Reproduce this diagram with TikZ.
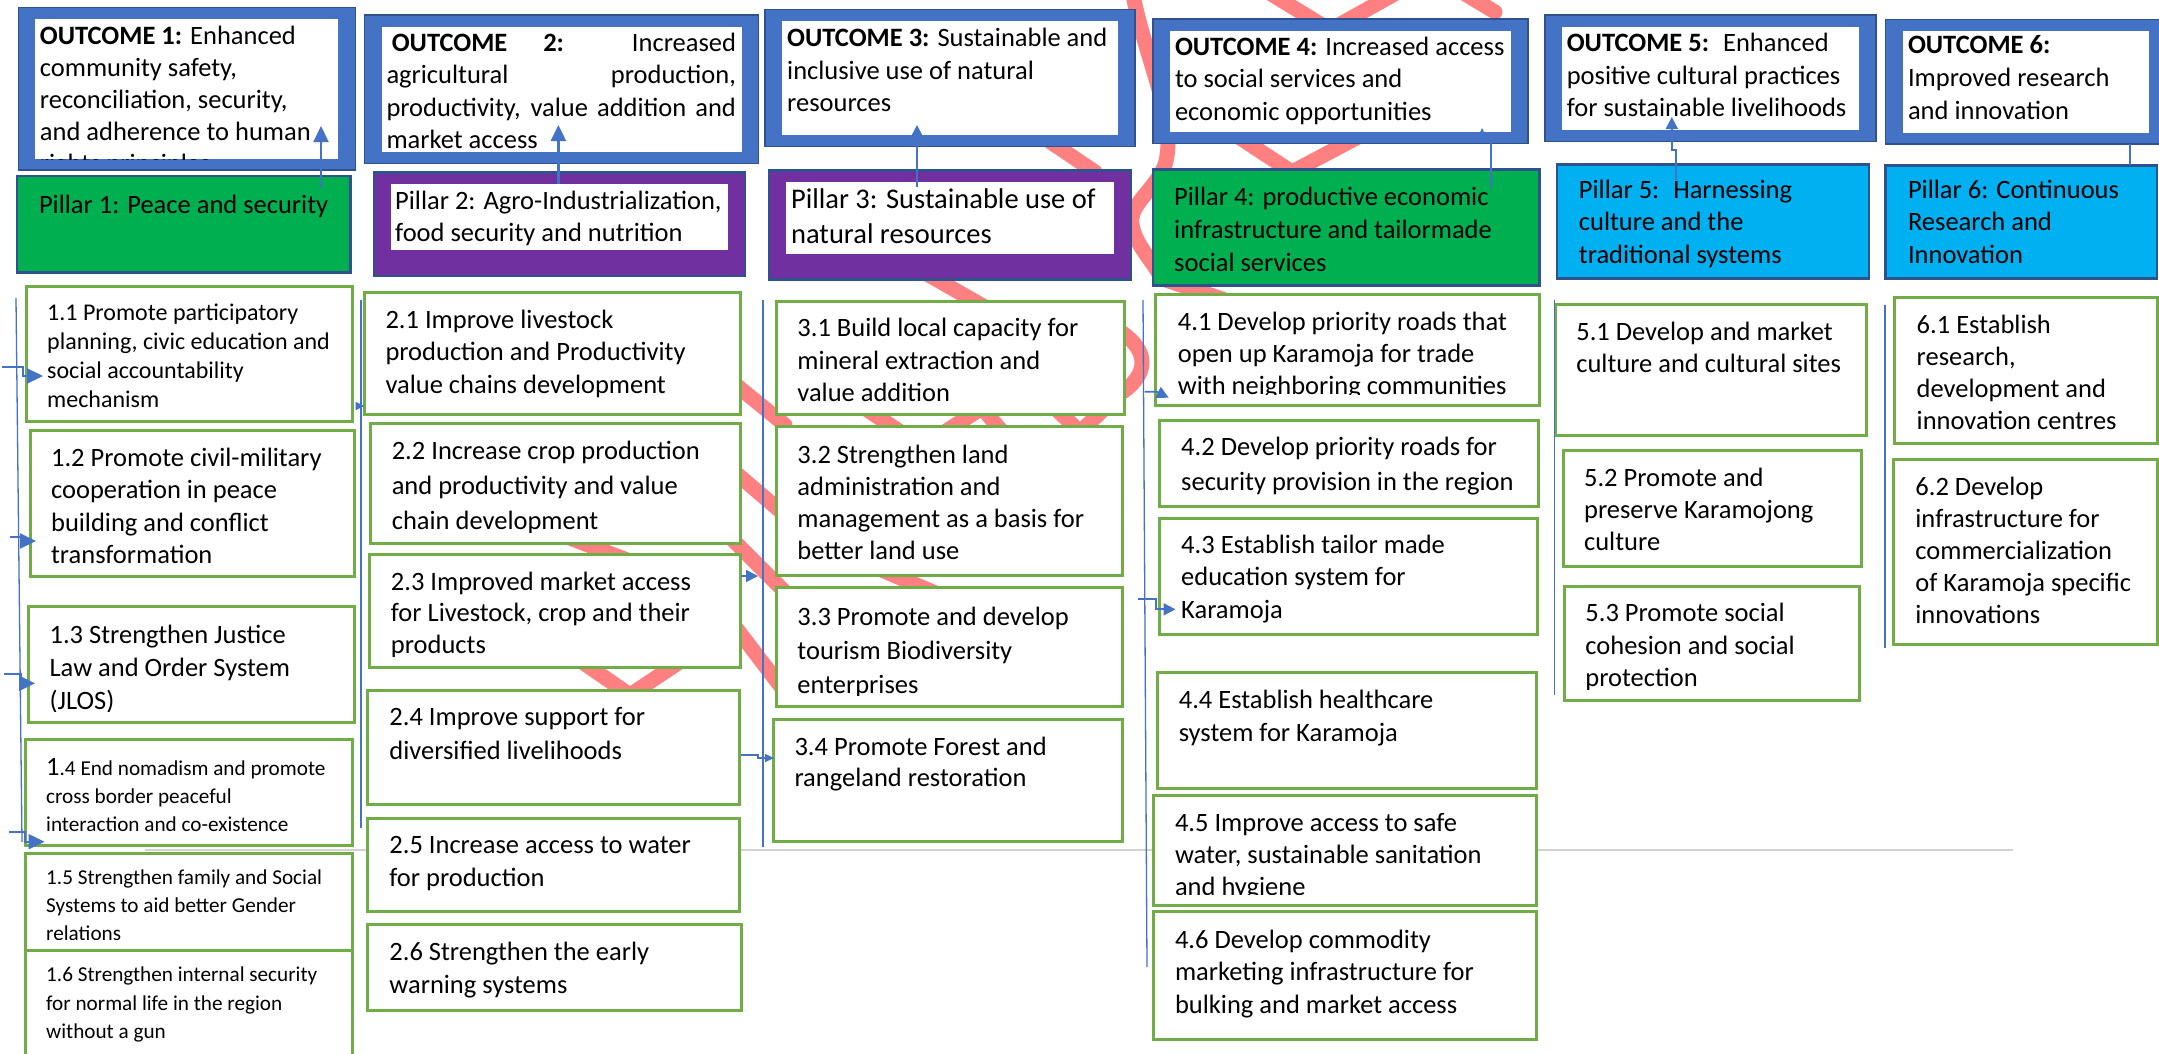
\documentclass[tikz,border=0pt]{standalone}
\usepackage{fontspec}
\setmainfont{Carlito}
\usetikzlibrary{arrows.meta}

\definecolor{oblue}{HTML}{4472C4}
\definecolor{obdark}{HTML}{2F528F}
\definecolor{pgreen}{HTML}{00B050}
\definecolor{ppurple}{HTML}{7030A0}
\definecolor{pcyan}{HTML}{00B0F0}
\definecolor{agreen}{HTML}{70AD47}
\definecolor{scribred}{HTML}{FF8080}

\tikzset{
  outbox/.style={fill=oblue, draw=obdark, line width=1.5pt, inner sep=0pt, outer sep=0pt,
    path picture={\fill[white] ([shift={(17,11.5)}]path picture bounding box.north west) rectangle ([shift={(-17,-11.5)}]path picture bounding box.south east);}},
  pilbox/.style={fill=#1, draw=obdark, line width=2.5pt, inner sep=0pt, outer sep=0pt},
  pilwhite/.style={pilbox=ppurple,
    path picture={\fill[white] ([shift={(17,11.3)}]path picture bounding box.north west) rectangle ([shift={(-17,-26)}]path picture bounding box.south east);}},
  actbox/.style={fill=white, draw=agreen, line width=3pt, inner sep=0pt, outer sep=0pt},
  txt/.style={inner sep=0pt, anchor=base west},
  colline/.style={draw=oblue, line width=1.3pt},
  conn/.style={draw=oblue, line width=2.2pt, -{Triangle[length=16pt,width=15pt]}},
  connmd/.style={draw=oblue, line width=1.8pt, -{Triangle[length=12pt,width=12pt]}},
  connsm/.style={draw=oblue, line width=1.5pt, -{Triangle[length=9pt,width=8pt]}},
  scrib/.style={draw=scribred, line width=15pt, line cap=round, line join=round},
}

% lines of a box: size, line pitch, text
\newcommand\lns[3]{{\fontsize{#1}{#2}\selectfont\begin{tabular}[t]{@{}l@{}}#3\end{tabular}}}
% box with corners, first baseline of its text, text clipped at the inner margin
\def\planbox[#1](#2)(#3,#4)(#5,#6)(#7,#8)#9{%
  \pgfmathsetmacro\bw{#5-#3}\pgfmathsetmacro\bh{#6-#4}%
  \node[#1, anchor=north west, minimum width=\bw pt, minimum height=\bh pt] (#2) at (#3,#4) {};
  \begin{scope}
    \clip (#3,#4) rectangle (#5,#6-11);
    \node[txt] (#2t) at (#7,#8) {#9};
  \end{scope}}

\begin{document}
\begin{tikzpicture}[x=1pt,y=-1pt]
	%%%%% START %%%%%
	\useasboundingbox (0,0) rectangle (2159,1053);
	\fill[white] (0,0) rectangle (2159,1053);
	
	% grey rule and red scribble behind the boxes
	\draw[gray!35, line width=2pt] (145,850) -- (2013,850);
	\draw[scrib] (1132,-10) .. controls (1145,60) and (1178,120) .. (1165,165) .. controls (1155,190) and (1128,205) .. (1132,225) .. controls (1136,245) and (1150,258) .. (1158,272);
	\draw[scrib] (1030,128) -- (1095,172);
	\draw[scrib] (1225,128) -- (1292,172) -- (1375,128);
	\draw[scrib] (1268,-8) -- (1330,30) -- (1398,-8);
	\draw[scrib] (1462,-8) -- (1495,12);
	\draw[scrib] (920,270) -- (990,310);
	\draw[scrib] (1160,278) -- (1225,300);
	\draw[scrib] (730,380) -- (785,425);
	\draw[scrib] (730,468) -- (785,515);
	\draw[scrib] (730,537) -- (785,592);
	\draw[scrib] (730,620) -- (785,692);
	\draw[scrib] (860,405) -- (905,435);
	\draw[scrib] (940,435) -- (982,408) -- (1005,435);
	\draw[scrib] (1055,408) -- (1080,432) -- (1105,408);
	\draw[scrib] (870,565) -- (940,595);
	\draw[scrib] (1118,330) .. controls (1150,350) and (1150,375) .. (1118,395);
	\draw[scrib] (570,538) -- (640,565);
	\draw[scrib] (572,655) -- (630,695) -- (690,655);
	
	% outcomes
	\planbox[outbox](o1)(18.4,7.3)(355.3,170)(39.7,44.3){\lns{26.5}{32}{\textbf{OUTCOME 1:} Enhanced\\community safety,\\reconciliation, security,\\and adherence to human\\rights principles}}
	\planbox[outbox](o2)(364.5,15)(758.6,163.3)(386.3,51.7){\lns{26.5}{32.2}{\hspace*{5.3pt}\makebox[344.2pt][s]{\textbf{OUTCOME 2:} Increased}\\\makebox[349.5pt][s]{agricultural production,}\\\makebox[349.5pt][s]{productivity, value addition and}\\market access}}
	\planbox[outbox](o3)(765.2,9.3)(1135,146.7)(787,46.7){\lns{26.5}{32.5}{\textbf{OUTCOME 3:} Sustainable and\\inclusive use of natural\\resources}}
	\planbox[outbox](o4)(1152.8,19)(1528.2,143.4)(1174.8,55){\lns{26.5}{32.5}{\textbf{OUTCOME 4:} Increased access\\to social services and\\economic opportunities}}
	\planbox[outbox](o5)(1545,15)(1876.2,141.7)(1566.6,51.7){\lns{26.5}{32.5}{\textbf{OUTCOME 5:}~ Enhanced\\positive cultural practices\\for sustainable livelihoods}}
	\planbox[outbox](o6)(1885.7,19.3)(2166,144)(1907.8,53.3){\lns{26.5}{33}{\textbf{OUTCOME 6:}\\Improved research\\and innovation}}
	
	% pillars
	\planbox[pilbox=pgreen](p1)(17,176)(350.4,272.7)(38.8,213.3){\lns{26.5}{32.5}{Pillar 1: Peace and security}}
	\planbox[pilwhite](p2)(374.2,172.7)(745,276)(395,209.3){\lns{26.5}{32.4}{Pillar 2: Agro-Industrialization,\\food security and nutrition}}
	\planbox[pilwhite](p3)(769,170.7)(1131,279.6)(790.9,208.3){\lns{28.5}{35}{Pillar 3: Sustainable use of\\natural resources}}
	\planbox[pilbox=pgreen](p4)(1152.8,169.7)(1539.7,285.4)(1174,205){\lns{26.5}{33.3}{Pillar 4: productive economic\\infrastructure and tailormade\\social services}}
	\planbox[pilbox=pcyan](p5)(1557,164.3)(1868.8,278.3)(1578.7,198.3){\lns{26.5}{32.5}{Pillar 5:~ Harnessing\\culture and the\\traditional systems}}
	\planbox[pilbox=pcyan](p6)(1885.7,165.7)(2157,278.3)(1907.8,198.3){\lns{26.5}{32.5}{Pillar 6: Continuous\\Research and\\Innovation}}
	
	% column 1
	\planbox[actbox](s11)(26.7,286.7)(352.4,421.7)(47,320){\lns{24}{29}{1.1 Promote participatory\\planning, civic education and\\social accountability\\mechanism}}
	\planbox[actbox](s12)(30,430.7)(354.8,576)(50.9,466.7){\lns{26.5}{32.2}{1.2 Promote civil-military\\cooperation in peace\\building and conflict\\transformation}}
	\planbox[actbox](s13)(28.1,606)(354.8,722.7)(49.4,643.3){\lns{26.5}{33.3}{1.3 Strengthen Justice\\Law and Order System\\(JLOS)}}
	\planbox[actbox](s14)(25.2,739)(352.4,845)(46,775){\lns{21.2}{28.3}{{\fontsize{26.5}{28.3}\selectfont 1}.4 End nomadism and promote\\cross border peaceful\\interaction and co-existence}}
	\planbox[actbox](s15)(25.2,853.3)(352.4,950.7)(46,884){\lns{21.2}{28}{1.5 Strengthen family and Social\\Systems to aid better Gender\\relations}}
	\planbox[actbox](s16)(25.2,950.7)(352.4,1070)(46,981.7){\lns{21.2}{28.3}{1.6 Strengthen internal security\\for normal life in the region\\without a gun}}
	
	% column 2
	\planbox[actbox](s21)(364.5,292.7)(740.6,414)(385.3,328.3){\lns{26.5}{32.5}{2.1 Improve livestock\\production and Productivity\\value chains development}}
	\planbox[actbox](s22)(370.8,423.3)(740.6,543.3)(391.6,459.3){\lns{26.5}{35}{2.2 Increase crop production\\and productivity and value\\chain development}}
	\planbox[actbox](s23)(369.3,554)(740.6,667.5)(390.7,590){\lns{26.5}{31.7}{2.3 Improved market access\\for Livestock, crop and their\\products}}
	\planbox[actbox](s24)(367.4,690.7)(739.2,804)(389.2,725){\lns{26.5}{34.3}{2.4 Improve support for\\diversified livelihoods}}
	\planbox[actbox](s25)(367.4,818.3)(739.2,911.7)(389.2,853.3){\lns{26.5}{33.3}{2.5 Increase access to water\\for production}}
	\planbox[actbox](s26)(367.4,924.3)(741.6,1010.7)(389.2,960){\lns{26.5}{33.3}{2.6 Strengthen the early\\warning systems}}
	
	% column 3
	\planbox[actbox](s31)(776.4,301.7)(1124.4,414)(797.2,336.7){\lns{26.5}{32.5}{3.1 Build local capacity for\\mineral extraction and\\value addition}}
	\planbox[actbox](s32)(776.4,426.7)(1122,575)(797.2,463.3){\lns{26.5}{32.2}{3.2 Strengthen land\\administration and\\management as a basis for\\better land use}}
	\planbox[actbox](s33)(776.4,587.7)(1122,706.7)(797.2,625){\lns{26.5}{34.2}{3.3 Promote and develop\\tourism Biodiversity\\enterprises}}
	\planbox[actbox](s34)(773,719.3)(1122,841.7)(794.3,755){\lns{26.5}{31.7}{3.4 Promote Forest and\\rangeland restoration}}
	
	% column 4
	\planbox[actbox](s41)(1155,294)(1539.7,405.3)(1177.7,330){\lns{26.5}{32}{4.1 Develop priority roads that\\open up Karamoja for trade\\with neighboring communities}}
	\planbox[actbox](s42)(1159.7,420)(1538.6,506)(1181,455){\lns{26.5}{35}{4.2 Develop priority roads for\\security provision in the region}}
	\planbox[actbox](s43)(1159.7,518.3)(1537,634)(1181,553.3){\lns{26.5}{32.5}{4.3 Establish tailor made\\education system for\\Karamoja}}
	\planbox[actbox](s44)(1157.8,672.7)(1536.3,788.3)(1178.6,708.3){\lns{26.5}{32.7}{4.4 Establish healthcare\\system for Karamoja}}
	\planbox[actbox](s45)(1153,795)(1536.3,905)(1174.8,831.7){\lns{26.5}{32}{4.5 Improve access to safe\\water, sustainable sanitation\\and hygiene}}
	\planbox[actbox](s46)(1153,911.7)(1536.3,1039)(1174.8,948.3){\lns{26.5}{32.5}{4.6 Develop commodity\\marketing infrastructure for\\bulking and market access}}
	
	% column 5
	\planbox[actbox](s51)(1555.8,304)(1866.2,435.7)(1576.1,340){\lns{26.5}{32.7}{5.1 Develop and market\\culture and cultural sites}}
	\planbox[actbox](s52)(1563.1,450)(1861.9,566)(1583.9,486.7){\lns{26.5}{31.7}{5.2 Promote and\\preserve Karamojong\\culture}}
	\planbox[actbox](s53)(1564.4,586)(1859.7,700)(1585.2,621.7){\lns{26.5}{32.5}{5.3 Promote social\\cohesion and social\\protection}}
	
	% column 6
	\planbox[actbox](s61)(1894.8,297.3)(2157,443.3)(1916.5,333.3){\lns{26.5}{32}{6.1 Establish\\research,\\development and\\innovation centres}}
	\planbox[actbox](s62)(1893.5,459.3)(2157,644)(1915.2,495){\lns{26.5}{32}{6.2 Develop\\infrastructure for\\commercialization\\of Karamoja specific\\innovations}}
	
	% column lines
	\draw[colline] (16,298) -- (22,842);
	\draw[colline] (361,300) -- (361,828);
	\draw[colline] (763,300) -- (763,847);
	\draw[colline] (1143,300) -- (1147,967);
	\draw[colline] (1554.5,300) -- (1554.5,695);
	\draw[colline] (1885,305) -- (1885,648);
	
	% pillar to outcome
	\coordinate (p1a) at (321,188);
	\coordinate (o1a) at (321,126);
	\draw[conn] (p1a) -- (o1a);
	\coordinate (p2a) at (558.4,184);
	\coordinate (o2a) at (558.4,125);
	\draw[conn] (p2a) -- (o2a);
	\coordinate (p3a) at (917,187);
	\coordinate (o3a) at (917,125);
	\draw[connmd] (p3a) -- (o3a);
	\coordinate (p4a) at (1491,188);
	\coordinate (o4a) at (1482,128);
	\draw[connsm] (p4a) -- (1491,142) -- (1482,142) -- (o4a);
	\coordinate (p5a) at (1675.7,180);
	\coordinate (o5a) at (1671.8,117);
	\draw[connmd] (p5a) -- (1675.7,150) -- (1671.8,150) -- (o5a);
	\coordinate (p6a) at (2130,165);
	\draw[draw=oblue, line width=1.8pt] (p6a) -- (o6.south -| p6a);
	
	% feeds into the activity boxes
	\coordinate (in11) at (2,367);
	\draw[conn] (in11) -- ++(21,0) -- ++(0,9) -- ++(20,0);
	\coordinate (in12) at (10,537);
	\draw[conn] (in12) -- ++(12,0) -- ++(0,4) -- ++(14,0);
	\coordinate (in13) at (4,674);
	\draw[conn] (in13) -- ++(16.5,0) -- ++(0,9.3) -- ++(14.5,0);
	\coordinate (in14) at (9,831.7);
	\draw[conn] (in14) -- ++(16,0) -- ++(0,10) -- ++(19.5,0);
	\coordinate (in21) at (361,406);
	\draw[connsm] (in21) -- (s21.west |- in21);
	\coordinate (in32) at (741,576);
	\draw[connmd] (in32) -- ++(17,0);
	\coordinate (in34) at (741,755);
	\draw[connsm] (in34) -- ++(17,0) -- ++(0,3) -- ++(16,0);
	\coordinate (in41) at (1144.7,391.7);
	\draw[connmd] (in41) -- ++(12,0) -- ++(12,6);
	\coordinate (in43) at (1137.5,599.3);
	\draw[connmd] (in43) -- ++(18.5,0) -- ++(0,10) -- ++(19.5,0);
	%%%%% END %%%%%
\end{tikzpicture}
\end{document}
